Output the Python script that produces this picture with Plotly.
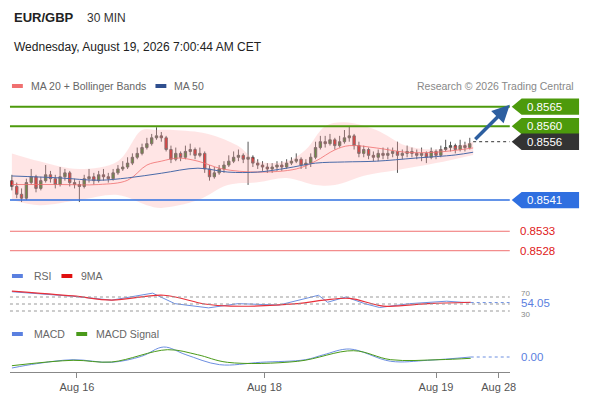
import plotly.graph_objects as go

# candle data (30 min bars)
opens = [.85460,.85445,.85425,.85415,.85455,.85470,.85440,.85460,.85475,.85465,.85450,.85470,.85480,.85455,.85450,.85445,
         .85465,.85470,.85460,.85475,.85470,.85465,.85480,.85490,.85495,.85505,.85520,.85530,.85545,.85555,.85570,.85575,
         .85570,.85540,.85515,.85530,.85520,.85535,.85540,.85525,.85530,.85490,.85470,.85480,.85490,.85500,.85510,.85520,
         .85525,.85515,.85520,.85505,.85500,.85495,.85490,.85495,.85500,.85495,.85505,.85510,.85515,.85500,.85505,.85520,
         .85545,.85560,.85555,.85565,.85550,.85560,.85570,.85575,.85550,.85530,.85540,.85525,.85520,.85530,.85525,.85530,
         .85535,.85525,.85530,.85535,.85530,.85525,.85530,.85520,.85535,.85525,.85540,.85545,.85550,.85540,.85550,.85545]
closes = [.85445,.85425,.85415,.85455,.85470,.85440,.85460,.85475,.85465,.85450,.85470,.85480,.85455,.85450,.85445,.85465,
          .85470,.85460,.85475,.85470,.85465,.85480,.85490,.85495,.85505,.85520,.85530,.85545,.85555,.85570,.85575,.85570,
          .85540,.85515,.85530,.85520,.85535,.85540,.85525,.85530,.85490,.85470,.85480,.85490,.85500,.85510,.85520,.85525,
          .85515,.85520,.85505,.85500,.85495,.85490,.85495,.85500,.85495,.85505,.85510,.85515,.85500,.85505,.85520,.85545,
          .85560,.85555,.85565,.85550,.85560,.85570,.85575,.85550,.85530,.85540,.85525,.85520,.85530,.85525,.85530,.85535,
          .85525,.85530,.85535,.85530,.85525,.85530,.85520,.85535,.85525,.85540,.85545,.85550,.85540,.85550,.85545,.85555]
highs = [.85475,.85455,.85440,.85465,.85490,.85475,.85470,.85500,.85485,.85475,.85495,.85490,.85485,.85465,.85460,.85475,
         .85490,.85480,.85485,.85490,.85480,.85490,.85500,.85510,.85520,.85530,.85545,.85555,.85570,.85580,.85597,.85585,
         .85575,.85550,.85545,.85535,.85550,.85555,.85545,.85545,.85535,.85500,.85495,.85500,.85510,.85525,.85535,.85540,
         .85530,.85560,.85525,.85515,.85510,.85505,.85505,.85510,.85510,.85515,.85520,.85530,.85520,.85515,.85530,.85560,
         .85575,.85575,.85580,.85570,.85575,.85590,.85600,.85580,.85560,.85550,.85545,.85535,.85540,.85545,.85545,.85545,
         .85560,.85540,.85550,.85545,.85540,.85545,.85535,.85545,.85540,.85550,.85565,.85560,.85555,.85565,.85560,.85570]
lows = [.85435,.85415,.85405,.85410,.85450,.85430,.85435,.85455,.85455,.85440,.85445,.85460,.85445,.85440,.85405,.85440,
        .85455,.85450,.85455,.85460,.85455,.85460,.85475,.85485,.85490,.85500,.85515,.85525,.85540,.85550,.85565,.85560,
        .85535,.85505,.85510,.85510,.85515,.85525,.85515,.85520,.85480,.85460,.85465,.85475,.85480,.85495,.85505,.85510,
        .85505,.85449,.85495,.85490,.85485,.85480,.85480,.85485,.85485,.85490,.85500,.85505,.85490,.85490,.85495,.85515,
        .85540,.85545,.85550,.85540,.85545,.85555,.85560,.85540,.85520,.85520,.85515,.85510,.85510,.85515,.85515,.85520,
        .85480,.85515,.85520,.85520,.85515,.85510,.85505,.85515,.85515,.85520,.85535,.85535,.85530,.85535,.85535,.85540]

band_up_idx = [0, 5.7, 14, 22, 27, 30, 33.5, 40.7, 46.8, 51, 57, 61, 65, 69, 75.6, 81.7, 88, 95.7]
band_up = [.8553, .8551, .8549, .8551, .8559, .8559, .8559, .8558, .8555, .8551, .8551, .8554, .8560, .8561, .8559, .8555, .8554, .8556]
band_lo_idx = [0, 5.7, 14, 22, 28, 31, 38.6, 44.8, 51, 57, 63, 67, 73.5, 79.7, 88, 95.7]
band_lo = [.8541, .85397, .8541, .85423, .85397, .8539, .8541, .85449, .85456, .85467, .85449, .85449, .85474, .85487, .85505, .85526]
ma20_idx = [0, 9.9, 18, 24, 28, 31, 34.5, 38.6, 43.7, 51, 59, 63, 67, 70, 75.6, 81.7, 88, 95.7]
ma20 = [.8545, .8545, .8545, .85461, .8550, .8551, .85518, .8551, .8549, .85482, .8549, .8551, .85539, .8555, .85544, .85533, .85533, .85544]
ma50_idx = [0, 9.9, 18, 24, 31, 38.6, 44.8, 51, 57, 63, 69, 75.6, 83.8, 92, 95.7]
ma50 = [.85472, .85467, .85461, .85467, .85479, .85492, .85482, .85482, .85492, .85505, .85508, .8551, .85518, .85526, .85533]

rsi_idx = [0, 12.7, 20.7, 29.2, 33.8, 40.8, 46.9, 55.4, 61.6, 63.6, 65.5, 69.3, 73.2, 76.3, 82.5, 90.2, 93.3, 95.2]
rsi = [85, 72, 61, 81, 51, 39, 51, 47, 68, 75, 55, 70, 51, 40, 51, 58, 55, 54.05]
ma9_idx = [0, 12.7, 20.7, 31.5, 40, 45.4, 59.3, 64.7, 70.1, 77.1, 86.3, 95.2]
ma9 = [87, 73, 61, 75, 50, 44, 51, 61, 66, 44, 51, 55]
macd_idx = [0, 5.1, 12.7, 20.7, 26.9, 31.5, 36.1, 43.1, 51.6, 60.9, 64.7, 70.1, 78.6, 86.3, 95.2]
macd = [-11, -6.7, -2.7, -5.3, 0.7, 10, 2.3, -7.7, -5.3, -2.7, 2.3, 8, -4.3, -3.3, 0]
signal_idx = [0, 12.7, 20.7, 32.3, 38.5, 44.7, 59.3, 70.9, 78.6, 88.6, 95.2]
signal = [-8.7, -3.3, -5, 7.3, 2.3, -5.3, -4.3, 6.3, -2.7, -2.7, -1.3]

tick_pos = [13.5, 52.4, 88, 101]
tick_text = ["Aug 16", "Aug 18", "Aug 19", "Aug 28"]

levels_green = [0.8565, 0.8560]
level_blue = 0.8541
levels_red = [0.8533, 0.8528]
last_price = 0.8556

FONT = "Liberation Sans, Arial, sans-serif"
W, H, OFF = 582, 392, 8   # page body margin shifts the figure by 8px
px = lambda x: (x - OFF) / W
py = lambda y: 1 - (y - OFF) / H

fig = go.Figure()
fig.add_trace(go.Scatter(x=band_up_idx, y=band_up, mode="lines", line=dict(width=0, shape="spline"), hoverinfo="skip"))
fig.add_trace(go.Scatter(x=band_lo_idx, y=band_lo, mode="lines", line=dict(width=0, shape="spline"),
                         fill="tonexty", fillcolor="rgba(255,170,170,0.3)", hoverinfo="skip"))
fig.add_trace(go.Scatter(x=ma20_idx, y=ma20, mode="lines", line=dict(color="rgba(240,110,110,0.8)", width=1, shape="spline")))
fig.add_trace(go.Scatter(x=ma50_idx, y=ma50, mode="lines", line=dict(color="#4a6aa8", width=1, shape="spline")))
fig.add_trace(go.Candlestick(x=list(range(len(closes))), open=opens, high=highs, low=lows, close=closes,
                             increasing=dict(line=dict(color="#555555", width=1), fillcolor="#2e7d1f"),
                             decreasing=dict(line=dict(color="#555555", width=1), fillcolor="#e01010"),
                             whiskerwidth=0))

fig.add_trace(go.Scatter(x=rsi_idx, y=rsi, yaxis="y2", mode="lines", line=dict(color="#6d8fe0", width=1)))
fig.add_trace(go.Scatter(x=ma9_idx, y=ma9, yaxis="y2", mode="lines", line=dict(color="#e8303a", width=1.2, shape="spline")))
fig.add_trace(go.Scatter(x=macd_idx, y=macd, yaxis="y3", mode="lines", line=dict(color="#6d8fe0", width=1, shape="spline")))
fig.add_trace(go.Scatter(x=signal_idx, y=signal, yaxis="y3", mode="lines", line=dict(color="#4a9a1a", width=1, shape="spline")))

shapes = []
for lv in levels_green:
    shapes.append(dict(type="line", xref="x domain", x0=0, x1=1, yref="y", y0=lv, y1=lv, line=dict(color="#4d9a0c", width=2)))
shapes.append(dict(type="line", xref="x domain", x0=0, x1=1, yref="y", y0=level_blue, y1=level_blue, line=dict(color="#2f6fe0", width=1.5)))
for lv in levels_red:
    shapes.append(dict(type="line", xref="x domain", x0=0, x1=1, yref="y", y0=lv, y1=lv, line=dict(color="#f07070", width=1)))
shapes.append(dict(type="line", xref="x", x0=95.7, x1=103.3, yref="y", y0=last_price, y1=last_price, line=dict(color="#333", width=1, dash="dot")))

h = 0.00021
def tag(lv, color):
    return dict(type="path", xref="paper", yref="y", fillcolor=color, line=dict(width=0),
                path=f"M {px(517)},{lv} L {px(527)},{lv+h} L {px(585)},{lv+h} L {px(585)},{lv-h} L {px(527)},{lv-h} Z")
for lv in levels_green:
    shapes.append(tag(lv, "#4d9a0c"))
shapes.append(tag(last_price, "#333333"))
shapes.append(tag(level_blue, "#2f6fe0"))

for v in [70, 50, 30]:
    shapes.append(dict(type="line", xref="x domain", x0=0, x1=1, yref="y2", y0=v, y1=v, line=dict(color="#999", width=1, dash="dot")))
shapes.append(dict(type="line", xref="x", x0=95.2, x1=103.3, yref="y2", y0=rsi[-1], y1=rsi[-1], line=dict(color="#6d8fe0", width=1, dash="dot")))
shapes.append(dict(type="line", xref="x", x0=95.2, x1=103.3, yref="y3", y0=0, y1=0, line=dict(color="#6d8fe0", width=1, dash="dot")))

# legend swatches
for x0, y, c in [(12, 86, "#f07070"), (157, 86, "#2f4f8f"), (12, 276, "#5a80e0"), (62, 276, "#e01010"),
                 (12, 334, "#5a80e0"), (77, 334, "#4a9a1a")]:
    shapes.append(dict(type="rect", xref="paper", yref="paper", x0=px(x0), x1=px(x0 + 11), y0=py(y + 2), y1=py(y - 2),
                       fillcolor=c, line=dict(width=0)))

ann = []
def text(x, y, s, size=11, color="#666", anchor="left", bold=False, yref="paper", xref="paper"):
    ann.append(dict(x=x, y=y, xref=xref, yref=yref, text=f"<b>{s}</b>" if bold else s, showarrow=False,
                    xanchor=anchor, yanchor="middle", font=dict(family=FONT, size=size, color=color)))

text(px(12), py(18), "EUR/GBP", 13, "#222", bold=True)
text(px(86), py(18), "30 MIN", 12, "#333")
text(px(12), py(47), "Wednesday, August 19, 2026 7:00:44 AM CET", 12, "#222")
text(px(29), py(86), "MA 20 + Bollinger Bands", 10.5)
text(px(174), py(86), "MA 50", 10.5)
text(px(582), py(86), "Research © 2026 Trading Central", 10.5, "#888", anchor="right")
text(px(32), py(276), "RSI", 10.5)
text(px(80), py(276), "9MA", 10.5)
text(px(32), py(334), "MACD", 10.5)
text(px(95), py(334), "MACD Signal", 10.5)
for lv in levels_green:
    text(px(530), lv, f"{lv:.4f}", 11.5, "white", yref="y")
text(px(530), last_price, f"{last_price:.4f}", 11.5, "white", yref="y")
text(px(530), level_blue, f"{level_blue:.4f}", 11.5, "white", yref="y")
for lv in levels_red:
    text(px(523), lv, f"{lv:.4f}", 11.5, "#e02020", yref="y")
text(px(524), 79, "70", 8, "#888", yref="y2")
text(px(524), 20, "30", 8, "#888", yref="y2")
text(px(524), rsi[-1], f"{rsi[-1]:.2f}", 11.5, "#5a80e0", yref="y2")
text(px(524), 0, "0.00", 11.5, "#5a80e0", yref="y3")

ann.append(dict(x=103.3, y=0.85655, xref="x", yref="y", ax=-36, ay=36, showarrow=True, arrowhead=2,
                arrowsize=1, arrowwidth=3.5, arrowcolor="#2d5fa0", text=""))

fig.update_layout(
    width=W, height=H, margin=dict(l=0, r=0, t=0, b=0),
    paper_bgcolor="white", plot_bgcolor="white", showlegend=False,
    shapes=shapes, annotations=ann, font=dict(family=FONT),
    xaxis=dict(domain=[px(10), px(515)], range=[-0.4, 103.3], anchor="y3", rangeslider=dict(visible=False),
               showgrid=False, zeroline=False, showline=True, linecolor="#888", ticks="outside", ticklen=5,
               tickcolor="#888", tickvals=tick_pos, ticktext=tick_text, tickfont=dict(size=11, color="#555")),
    yaxis=dict(domain=[py(262), py(95)], range=[0.85251, 0.85680], visible=False),
    yaxis2=dict(domain=[py(315), py(288)], range=[18.6, 95.7], visible=False, anchor="x"),
    yaxis3=dict(domain=[py(372), py(320)], range=[-15, 37], visible=False, anchor="x"),
)

fig.write_html("out.html")
